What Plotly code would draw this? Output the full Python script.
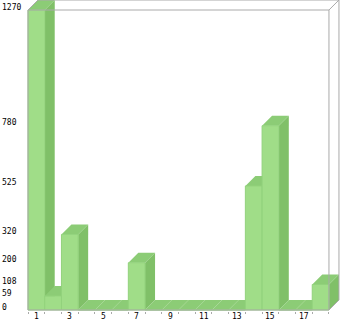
import plotly.graph_objects as go

categories = list(range(1, 19))
values = [1270, 59, 320, 0, 0, 0, 200, 0, 0, 0, 0, 0, 0, 525, 780, 0, 0, 108]
ytick_vals = [0, 59, 108, 200, 320, 525, 780, 1270]
xtick_labels = [1, 3, 5, 7, 9, 11, 13, 15, 17]

FRONT = "#a0dd88"
SIDE = "#80c068"
TOP = "#8ccc76"
EDGE = "#92d27c"
FRAME = "#aaaaaa"
FONT = dict(family="DejaVu Sans Mono", size=8, color="#000000")

W, H = 340, 321
ml, mr, mt, mb = 27, 0, 0, 10
pw, ph = W - ml - mr, H - mt - mb
kx = 16.72            # px per category
ymax = max(values)
ky = 300 / ymax       # px per value unit
DX = 10 / kx          # depth in category units
DY = 10 / ky          # depth in value units
x0r = 0.5 - 1 / kx
x1r = x0r + pw / kx
y0r = -(ph - 310) / ky
y1r = y0r + ph / ky

fig = go.Figure()
for c, h in zip(categories, values):
    a, b = c - 0.5, c + 0.5
    # side face
    fig.add_trace(go.Scatter(x=[b, b + DX, b + DX, b, b], y=[0, DY, h + DY, h, 0],
                             fill="toself", fillcolor=SIDE, mode="lines",
                             line=dict(width=0, color=SIDE), hoverinfo="skip", showlegend=False))
    # top face
    fig.add_trace(go.Scatter(x=[a, b, b + DX, a + DX, a], y=[h, h, h + DY, h + DY, h],
                             fill="toself", fillcolor=TOP, mode="lines",
                             line=dict(width=0, color=TOP), hoverinfo="skip", showlegend=False))
    # front face
    fig.add_trace(go.Scatter(x=[a, b, b, a, a], y=[0, 0, h, h, 0],
                             fill="toself", fillcolor=FRONT, mode="lines",
                             line=dict(width=1, color=EDGE), hoverinfo="skip", showlegend=False))

lo, hi = 0.5, categories[-1] + 0.5
segs = [
    (lo, 0, lo, ymax), (lo, 0, hi, 0), (lo, ymax, hi, ymax), (hi, 0, hi, ymax),
    (lo + DX, ymax + DY, hi + DX, ymax + DY), (hi + DX, DY, hi + DX, ymax + DY),
    (lo, ymax, lo + DX, ymax + DY), (hi, ymax, hi + DX, ymax + DY), (hi, 0, hi + DX, DY),
]
shapes = [dict(type="line", xref="x", yref="y", x0=p, y0=q, x1=r, y1=s,
               line=dict(color=FRAME, width=1), layer="above") for p, q, r, s in segs]

annotations = []
for v in ytick_vals:
    annotations.append(dict(xref="paper", yref="y", x=-ml / pw, y=v, text=str(v),
                            xanchor="left", yanchor="middle", showarrow=False,
                            font=FONT, yshift=3))
for t in xtick_labels:
    annotations.append(dict(xref="x", yref="paper", x=t, y=0, text=str(t),
                            xanchor="center", yanchor="middle", showarrow=False,
                            font=FONT, yshift=-5.5, borderpad=0))

fig.update_layout(
    width=W, height=H, margin=dict(l=ml, r=mr, t=mt, b=mb),
    paper_bgcolor="white", plot_bgcolor="white",
    shapes=shapes, annotations=annotations,
    xaxis=dict(range=[x0r, x1r], showgrid=False, zeroline=False, showline=False,
               tickmode="array", tickvals=[i + 0.5 for i in range(0, 19)],
               ticks="outside", ticklen=2, tickcolor=FRAME, showticklabels=False),
    yaxis=dict(range=[y0r, y1r], showgrid=False, zeroline=False, showline=False,
               showticklabels=False, ticks=""),
)
fig.write_html("out.html")
